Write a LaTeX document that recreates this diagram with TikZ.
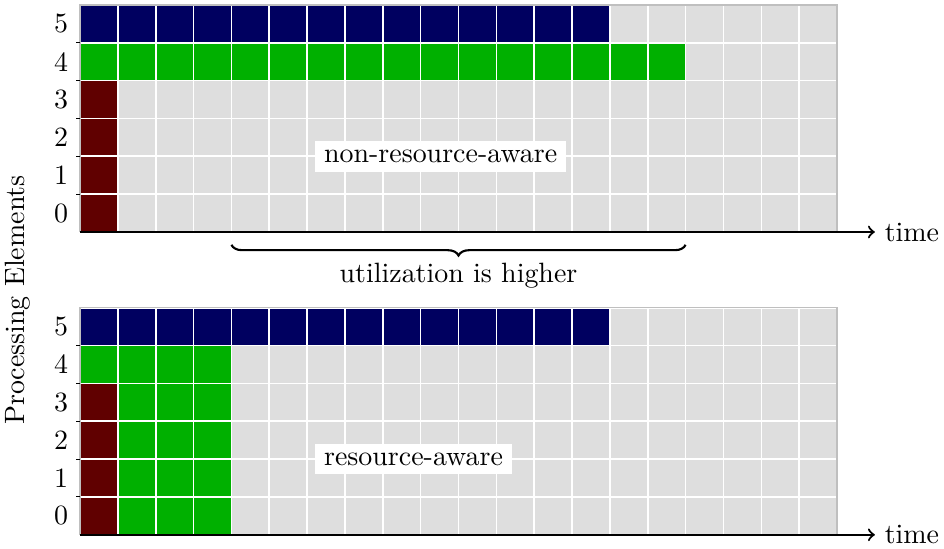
\documentclass[tikz,border=0pt]{standalone}
\usepackage{tikz}
\usetikzlibrary{decorations.pathreplacing}
\definecolor{peblue}{RGB}{0,0,96}
\definecolor{pegreen}{RGB}{0,176,0}
\definecolor{pered}{RGB}{96,0,0}
\definecolor{pegray}{RGB}{222,222,222}
\tikzset{
  celllines/.style={white,line width=.6pt},
  gridframe/.style={black!25,line width=.6pt},
  timeaxis/.style={thick,->},
  labelbox/.style={fill=white,anchor=west}
}

\begin{document}
\begin{tikzpicture}[x=5mm,y=5mm,font=\fontsize{10.5pt}{12.6pt}\selectfont]
  \useasboundingbox (-2.114,-8.375) rectangle (22.827,6.129);
  % upper panel
  \fill[pegray] (0,0) rectangle (20,6);
  \fill[peblue] (0,5) rectangle (14,6);
  \fill[pegreen] (0,4) rectangle (16,5);
  \fill[pered] (0,0) rectangle (1,4);
  \draw[celllines,step=5mm] (0,0) grid (20,6);
  \draw[gridframe] (0,0) -- (0,6) -- (20,6) -- (20,0);
  \foreach \r in {1,...,5} \draw (-0.1,\r) -- (0,\r);
  \foreach \r in {0,...,5} \node (pa\r) at (-0.5,\r+0.5) {\r};
  \node[labelbox] (nra) at (6.2,2) {non-resource-aware};
  \draw[timeaxis] (0,0) -- (21,0) node[right] (timea) {time};
  \draw[thick,decorate,decoration={brace,amplitude=4pt,mirror}] (4,-0.34) -- (16,-0.34)
    node[midway,below=3pt] (util) {utilization is higher};
  % lower panel
  \begin{scope}[yshift=-40mm]
    \fill[pegray] (0,0) rectangle (20,6);
    \fill[peblue] (0,5) rectangle (14,6);
    \fill[pegreen] (0,0) rectangle (4,5);
    \fill[pered] (0,0) rectangle (1,4);
    \draw[celllines,step=5mm] (0,0) grid (20,6);
    \draw[gridframe] (0,0) -- (0,6) -- (20,6) -- (20,0);
    \foreach \r in {1,...,5} \draw (-0.1,\r) -- (0,\r);
    \foreach \r in {0,...,5} \node (pb\r) at (-0.5,\r+0.5) {\r};
    \node[labelbox] (ra) at (6.2,2) {resource-aware};
    \draw[timeaxis] (0,0) -- (21,0) node[right] (timeb) {time};
  \end{scope}
  \node[rotate=90] (pe) at (-1.64,-1.8) {Processing Elements};
\end{tikzpicture}
\end{document}
